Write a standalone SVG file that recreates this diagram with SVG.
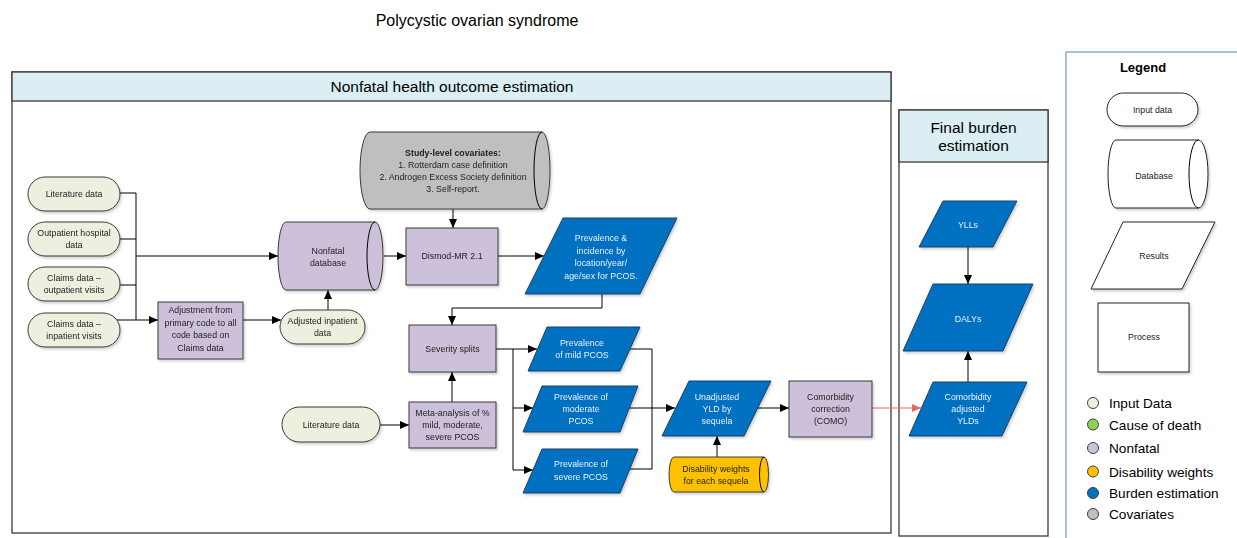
<svg xmlns="http://www.w3.org/2000/svg" width="1237" height="538" viewBox="0 0 1237 538">
  <style>
    text { font-family: "Liberation Sans", Arial, sans-serif; }
    .title { font-size: 16px; fill: #000; }
    .hdr { font-size: 15.5px; fill: #000; text-anchor: middle; }
    .lbl { font-size: 8.8px; fill: #222; text-anchor: middle; }
    .lblw { font-size: 8.8px; fill: #eaf2fb; text-anchor: middle; }
    .lgtitle { font-size: 13px; font-weight: bold; fill: #000; text-anchor: middle; }
    .lgitem { font-size: 13.6px; fill: #000; }
    .frame { fill: #fff; stroke: #3a3a3a; stroke-width: 1.3; }
    .band { fill: #daeef3; stroke: #3a3a3a; stroke-width: 1.3; }
    .input { fill: #ebf1de; stroke: #3a3a3a; stroke-width: 1; }
    .nonfatal { fill: #ccc0da; stroke: #3a3a3a; stroke-width: 1; }
    .cov { fill: #bfbfbf; stroke: #3a3a3a; stroke-width: 1; }
    .dw { fill: #ffc000; stroke: #3a3a3a; stroke-width: 1; }
    .burden { fill: #0070c0; stroke: #1f3f66; stroke-width: 1; }
    .plain { fill: #fff; stroke: #222; stroke-width: 1; }
    .wire { fill: none; stroke: #000; stroke-width: 1; }
    .arrow { fill: none; stroke: #000; stroke-width: 1; marker-end: url(#ah); }
    .red { fill: none; stroke: #e06a60; stroke-width: 1; marker-end: url(#ahr); }
    .shadow { filter: url(#sh); }
  </style>
  <defs>
    <marker id="ah" markerUnits="userSpaceOnUse" markerWidth="9" markerHeight="8" refX="9" refY="4" orient="auto">
      <path d="M0,0 L9,4 L0,8 z" fill="#000"/>
    </marker>
    <marker id="ahr" markerUnits="userSpaceOnUse" markerWidth="9" markerHeight="8" refX="9" refY="4" orient="auto">
      <path d="M0,0 L9,4 L0,8 z" fill="#e06a60"/>
    </marker>
    <filter id="sh" x="-10%" y="-10%" width="130%" height="140%">
      <feDropShadow dx="1.5" dy="2" stdDeviation="1.2" flood-color="#000" flood-opacity="0.18"/>
    </filter>
  </defs>

  <!-- title -->
  <text class="title" x="477" y="25.5" text-anchor="middle">Polycystic ovarian syndrome</text>

  <!-- swimlane frames -->
  <g id="lane-nonfatal">
    <rect class="frame" x="12" y="72" width="879" height="461"/>
    <rect class="band" x="12" y="72" width="879" height="29"/>
    <text class="hdr" x="452" y="92">Nonfatal health outcome estimation</text>
  </g>
  <g id="lane-final">
    <rect class="frame" x="899" y="110" width="149" height="426"/>
    <rect class="band" x="899" y="110" width="149" height="52"/>
    <text class="hdr" x="973.5" y="132.5">Final burden</text>
    <text class="hdr" x="973.5" y="150.5">estimation</text>
  </g>

  <!-- connectors -->
  <g id="connectors">
    <path class="wire" d="M116,193 H136 M116,239 H136 M116,285 H136 M136,193 V320"/>
    <path class="arrow" d="M136,256 H278"/>
    <path class="arrow" d="M116,320 H158"/>
    <path class="arrow" d="M243,320 H281"/>
    <path class="arrow" d="M328,310 V290"/>
    <path class="arrow" d="M384,256 H406"/>
    <path class="arrow" d="M453,209 V228"/>
    <path class="arrow" d="M498,256 H544"/>
    <path class="arrow" d="M602,294 V308 H452 V325"/>
    <path class="arrow" d="M496,349 H537"/>
    <path class="wire" d="M513,349 V470"/>
    <path class="arrow" d="M513,408 H533"/>
    <path class="arrow" d="M513,470 H533"/>
    <path class="wire" d="M630,349 H652 V469 H629"/>
    <path class="arrow" d="M629,408 H675"/>
    <path class="arrow" d="M757,408 H789"/>
    <path class="arrow" d="M717,457 V436"/>
    <path class="red" d="M872,408 H921"/>
    <path class="arrow" d="M968,247 V284"/>
    <path class="arrow" d="M968,382 V351"/>
    <path class="arrow" d="M380,425 H409"/>
    <path class="arrow" d="M452,402 V372"/>
  </g>

  <!-- input data -->
  <g id="lit-data-1" class="shadow">
    <rect class="input" x="28" y="177" width="92" height="34" rx="17"/>
    <text class="lbl" x="74" y="197">Literature data</text>
  </g>
  <g id="outpatient-hospital" class="shadow">
    <rect class="input" x="28" y="222" width="92" height="34" rx="17"/>
    <text class="lbl" x="74" y="236">Outpatient hospital</text>
    <text class="lbl" x="74" y="248">data</text>
  </g>
  <g id="claims-outpatient" class="shadow">
    <rect class="input" x="28" y="267" width="92" height="34" rx="17"/>
    <text class="lbl" x="74" y="281">Claims data –</text>
    <text class="lbl" x="74" y="293">outpatient visits</text>
  </g>
  <g id="claims-inpatient" class="shadow">
    <rect class="input" x="28" y="313" width="92" height="34" rx="17"/>
    <text class="lbl" x="74" y="327">Claims data –</text>
    <text class="lbl" x="74" y="339">inpatient visits</text>
  </g>
  <g id="lit-data-2" class="shadow">
    <rect class="input" x="282" y="407" width="98" height="35" rx="17.5"/>
    <text class="lbl" x="331" y="428">Literature data</text>
  </g>
  <g id="adjusted-inpatient" class="shadow">
    <rect class="input" x="280" y="310" width="85" height="34" rx="17"/>
    <text class="lbl" x="322.5" y="324">Adjusted inpatient</text>
    <text class="lbl" x="322.5" y="336">data</text>
  </g>

  <!-- nonfatal processing -->
  <g id="adjustment" class="shadow">
    <rect class="nonfatal" x="158" y="302" width="85" height="57"/>
    <text class="lbl" x="200.5" y="313">Adjustment from</text>
    <text class="lbl" x="200.5" y="325.5">primary code to all</text>
    <text class="lbl" x="200.5" y="338">code based on</text>
    <text class="lbl" x="200.5" y="350.5">Claims data</text>
  </g>
  <g id="nonfatal-db" class="shadow">
    <path class="nonfatal" d="M286,222 H375 A8,34 0 0 1 375,290 H286 A8,34 0 0 1 286,222 Z"/>
    <path class="wire" d="M375,222 A8,34 0 0 0 375,290" stroke="#3a3a3a"/>
    <text class="lbl" x="328" y="254">Nonfatal</text>
    <text class="lbl" x="328" y="265.5">database</text>
  </g>
  <g id="covariates" class="shadow">
    <path class="cov" d="M370,132 H542 A8,38.5 0 0 1 542,209 H370 A10,38.5 0 0 1 370,132 Z"/>
    <path class="wire" d="M542,132 A8,38.5 0 0 0 542,209" stroke="#3a3a3a"/>
    <text class="lbl" x="453" y="156" font-weight="bold">Study-level covariates:</text>
    <text class="lbl" x="453" y="168">1. Rotterdam case definition</text>
    <text class="lbl" x="453" y="180">2. Androgen Excess Society definition</text>
    <text class="lbl" x="453" y="192">3. Self-report.</text>
  </g>
  <g id="dismod" class="shadow">
    <rect class="nonfatal" x="406" y="228" width="92" height="57"/>
    <text class="lbl" x="452" y="259">Dismod-MR 2.1</text>
  </g>
  <g id="severity-splits" class="shadow">
    <rect class="nonfatal" x="409" y="325" width="87" height="47"/>
    <text class="lbl" x="452.5" y="352">Severity splits</text>
  </g>
  <g id="meta-analysis" class="shadow">
    <rect class="nonfatal" x="409" y="402" width="87" height="46"/>
    <text class="lbl" x="452.5" y="416">Meta-analysis of %</text>
    <text class="lbl" x="452.5" y="428">mild, moderate,</text>
    <text class="lbl" x="452.5" y="440">severe PCOS</text>
  </g>
  <g id="como" class="shadow">
    <rect class="nonfatal" x="789" y="381" width="83" height="56"/>
    <text class="lbl" x="830.5" y="400">Comorbidity</text>
    <text class="lbl" x="830.5" y="412">correction</text>
    <text class="lbl" x="830.5" y="424">(COMO)</text>
  </g>

  <!-- results -->
  <g id="prev-incidence" class="shadow">
    <polygon class="burden" points="563,218 677,218 640,294 525,294"/>
    <text class="lblw" x="601" y="241">Prevalence &amp;</text>
    <text class="lblw" x="601" y="254">incidence by</text>
    <text class="lblw" x="601" y="266">location/year/</text>
    <text class="lblw" x="601" y="279">age/sex for PCOS.</text>
  </g>
  <g id="prev-mild" class="shadow">
    <polygon class="burden" points="547,327 640,327 620,371 528,371"/>
    <text class="lblw" x="582" y="346">Prevalence</text>
    <text class="lblw" x="582" y="358">of mild PCOS</text>
  </g>
  <g id="prev-moderate" class="shadow">
    <polygon class="burden" points="542,386 638,386 620,432 523,432"/>
    <text class="lblw" x="581" y="400">Prevalence of</text>
    <text class="lblw" x="581" y="412">moderate</text>
    <text class="lblw" x="581" y="424">PCOS</text>
  </g>
  <g id="prev-severe" class="shadow">
    <polygon class="burden" points="542,449 638,449 620,493 523,493"/>
    <text class="lblw" x="581" y="467">Prevalence of</text>
    <text class="lblw" x="581" y="480">severe PCOS</text>
  </g>
  <g id="unadjusted-yld" class="shadow">
    <polygon class="burden" points="689,381 771,381 744,436 662,436"/>
    <text class="lblw" x="717" y="400">Unadjusted</text>
    <text class="lblw" x="717" y="412">YLD by</text>
    <text class="lblw" x="717" y="424">sequela</text>
  </g>
  <g id="disability-weights" class="shadow">
    <path class="dw" d="M674,457 H764 A4.5,17.5 0 0 1 764,492 H674 A5,17.5 0 0 1 674,457 Z"/>
    <path class="wire" d="M764,457 A4.5,17.5 0 0 0 764,492" stroke="#3a3a3a"/>
    <text class="lbl" x="716" y="472" fill="#222">Disability weights</text>
    <text class="lbl" x="716" y="483.5" fill="#222">for each sequela</text>
  </g>

  <!-- final burden -->
  <g id="ylls" class="shadow">
    <polygon class="burden" points="943,201 1017,201 993,247 919,247"/>
    <text class="lblw" x="968" y="228">YLLs</text>
  </g>
  <g id="dalys" class="shadow">
    <polygon class="burden" points="933,284 1033,284 1003,351 903,351"/>
    <text class="lblw" x="968" y="322">DALYs</text>
  </g>
  <g id="como-ylds" class="shadow">
    <polygon class="burden" points="933,382 1027,382 1002,436 909,436"/>
    <text class="lblw" x="968" y="400">Comorbidity</text>
    <text class="lblw" x="968" y="412">adjusted</text>
    <text class="lblw" x="968" y="424">YLDs</text>
  </g>

  <!-- legend -->
  <g id="legend">
    <rect x="1066" y="52" width="200" height="500" fill="#fff" stroke="#8eaacc" stroke-width="1.5"/>
    <text class="lgtitle" x="1143" y="72">Legend</text>
    <g class="shadow">
      <rect class="plain" x="1107" y="93" width="91" height="33" rx="16.5"/>
      <path class="plain" d="M1116,140 H1198.5 A9.5,34 0 0 1 1198.5,208 H1116 A8,34 0 0 1 1116,140 Z"/>
      <polygon class="plain" points="1123,222 1215,222 1182,289 1091,289"/>
      <rect class="plain" x="1098" y="303" width="91" height="69"/>
    </g>
    <path class="wire" d="M1198.5,140 A9.5,34 0 0 0 1198.5,208" stroke="#222"/>
    <text class="lbl" x="1152.5" y="112.5">Input data</text>
    <text class="lbl" x="1154" y="179">Database</text>
    <text class="lbl" x="1154" y="259">Results</text>
    <text class="lbl" x="1144" y="340">Process</text>

    <circle cx="1093" cy="403" r="5.5" fill="#ebf1de" stroke="#404040"/>
    <circle cx="1093" cy="424.5" r="5.5" fill="#92d050" stroke="#404040"/>
    <circle cx="1093" cy="448" r="5.5" fill="#ccc0da" stroke="#404040"/>
    <circle cx="1093" cy="471.5" r="5.5" fill="#ffc000" stroke="#404040"/>
    <circle cx="1093" cy="493" r="5.5" fill="#0070c0" stroke="#404040"/>
    <circle cx="1093" cy="514" r="5.5" fill="#bfbfbf" stroke="#404040"/>
    <text class="lgitem" x="1109" y="408">Input Data</text>
    <text class="lgitem" x="1109" y="429.5">Cause of death</text>
    <text class="lgitem" x="1109" y="453">Nonfatal</text>
    <text class="lgitem" x="1109" y="476.5">Disability weights</text>
    <text class="lgitem" x="1109" y="498">Burden estimation</text>
    <text class="lgitem" x="1109" y="519">Covariates</text>
  </g>
</svg>
